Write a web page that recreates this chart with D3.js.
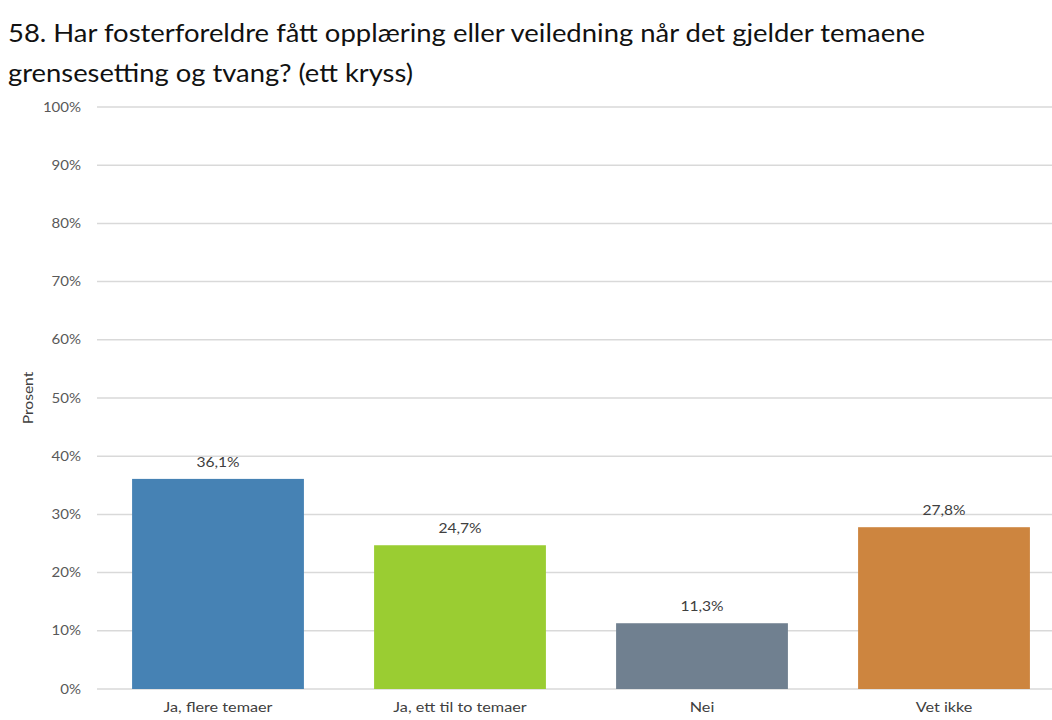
<!DOCTYPE html>
<html>
<head>
<meta charset="utf-8">
<script src="https://cdn.jsdelivr.net/npm/d3@7"></script>
<style>
  body { margin: 0; background: #fff; }
  svg { display: block; }
  text { font-family: "Lato", "Open Sans", sans-serif; }
</style>
</head>
<body>
<svg id="chart" width="1052" height="720"></svg>
<script>
const titleLines = ["58. Har fosterforeldre fått opplæring eller veiledning når det gjelder temaene", "grensesetting og tvang? (ett kryss)"];
const categories = ["Ja, flere temaer", "Ja, ett til to temaer", "Nei", "Vet ikke"];
const values = [36.1, 24.7, 11.3, 27.8];
const valueLabels = ["36,1%", "24,7%", "11,3%", "27,8%"];
const colors = ["#4682b4", "#9acd32", "#708090", "#cd853f"];
const yTicks = [0, 10, 20, 30, 40, 50, 60, 70, 80, 90, 100];
const yTitle = "Prosent";

(function () {
const svg = d3.select("#chart");
const pLeft = 97, pRight = 1065, pTop = 107, pBottom = 689;
const widen = 1.2;

function stretch(sel) {
  sel.each(function () {
    const w = this.getComputedTextLength();
    d3.select(this).attr("textLength", w * widen).attr("lengthAdjust", "spacingAndGlyphs");
  });
}

const x = d3.scaleBand().domain(categories).range([pLeft, pRight]).paddingInner(0.29).paddingOuter(0.145);
const y = d3.scaleLinear().domain([0, 100]).range([pBottom, pTop]);

// title
const titleWidths = [917, 405];
svg.selectAll("text.title").data(titleLines).join("text")
  .attr("class", "title")
  .attr("x", 8)
  .attr("y", (d, i) => 42 + i * 40)
  .attr("font-size", 25.5)
  .attr("fill", "#111")
  .attr("textLength", (d, i) => titleWidths[i])
  .attr("lengthAdjust", "spacingAndGlyphs")
  .text(d => d);

// gridlines
svg.append("g").selectAll("line").data(yTicks).join("line")
  .attr("x1", pLeft).attr("x2", 1052)
  .attr("y1", d => y(d)).attr("y2", d => y(d))
  .attr("stroke", "#d9d9d9").attr("stroke-width", 1.5);

// y axis
const yAxis = d3.axisLeft(y).tickValues(yTicks).tickFormat(d => d + "%").tickSize(0).tickPadding(0);
const gy = svg.append("g").attr("transform", `translate(81,0)`).call(yAxis);
gy.select(".domain").remove();
gy.selectAll("text").attr("font-size", 12.5).attr("fill", "#595959").attr("font-family", "Lato, 'Open Sans', sans-serif").call(stretch);

// y title
svg.append("text")
  .attr("transform", `translate(33,${(pTop + pBottom) / 2}) rotate(-90)`)
  .attr("text-anchor", "middle")
  .attr("font-size", 13)
  .attr("fill", "#404040")
  .text(yTitle).call(stretch);

// bars
svg.append("g").selectAll("rect").data(values).join("rect")
  .attr("x", (d, i) => x(categories[i]))
  .attr("width", x.bandwidth())
  .attr("y", d => y(d))
  .attr("height", d => y(0) - y(d))
  .attr("fill", (d, i) => colors[i]);

// value labels
svg.append("g").selectAll("text").data(values).join("text")
  .attr("x", (d, i) => x(categories[i]) + x.bandwidth() / 2)
  .attr("y", d => y(d) - 12)
  .attr("text-anchor", "middle")
  .attr("font-size", 13)
  .attr("fill", "#404040")
  .text((d, i) => valueLabels[i]).call(stretch);

// x axis labels
const xAxis = d3.axisBottom(x).tickSize(0).tickPadding(0);
const gx = svg.append("g").attr("transform", `translate(0,${pBottom + 13})`).call(xAxis);
gx.select(".domain").remove();
gx.selectAll("text").attr("font-size", 13.5).attr("fill", "#404040").attr("font-family", "Lato, 'Open Sans', sans-serif").call(stretch);
})();
</script>
</body>
</html>
